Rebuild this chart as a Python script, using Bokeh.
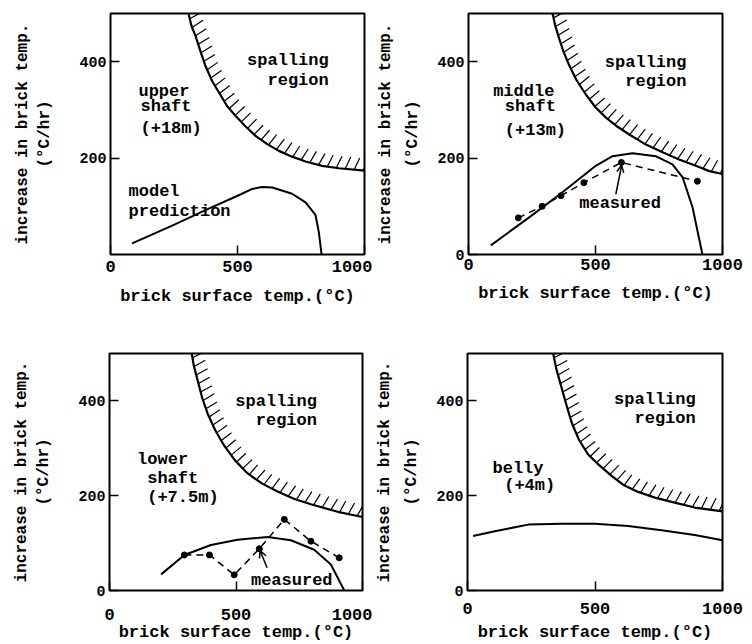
import numpy as np
from bokeh.plotting import figure
from bokeh.layouts import column, row
from bokeh.models import Label, Arrow, OpenHead, FixedTicker, Range1d
from bokeh.embed import file_html
from bokeh.resources import INLINE

FONT = "Liberation Mono"
WEIGHT = "bold"

# ---- data ----
x_ticks = [0, 500, 1000]
y_ticks_first = [200, 400]
y_ticks_other = [0, 200, 400]
x_label = "brick surface temp.(°C)"
y_label = "increase in brick temp.\n(°C/hr)"

# upper shaft (+18m)
upper_spall_x = [308, 319, 335, 354, 374, 400, 427, 459, 492, 531, 571, 617, 663, 715, 768, 833, 899, 1000]
upper_spall_y = [498, 474, 453, 422, 391, 360, 336, 308, 288, 266, 246, 229, 215, 203, 193, 184, 179, 174]
upper_model_x = [85, 243, 374, 505, 558, 597, 637, 715, 768, 807, 820, 831]
upper_model_y = [23, 60, 92, 123, 136, 140, 139, 126, 108, 82, 47, 0]

# middle shaft (+13m)
middle_spall_x = [331, 341, 357, 374, 396, 425, 462, 499, 541, 587, 633, 692, 764, 829, 895, 948, 1000]
middle_spall_y = [500, 476, 448, 421, 393, 362, 332, 306, 284, 265, 249, 230, 212, 197, 184, 173, 167]
middle_model_x = [88, 239, 370, 501, 567, 646, 737, 803, 843, 882, 921]
middle_model_y = [19, 77, 129, 184, 204, 210, 204, 187, 160, 98, 0]
middle_meas_x = [196, 290, 364, 454, 602, 901]
middle_meas_y = [76, 100, 122, 149, 191, 152]

# lower shaft (+7.5m)
lower_spall_x = [325, 333, 349, 366, 388, 418, 454, 497, 546, 602, 664, 731, 796, 902, 1000]
lower_spall_y = [500, 475, 442, 407, 373, 338, 305, 274, 247, 226, 209, 193, 182, 166, 155]
lower_model_x = [204, 296, 401, 506, 625, 717, 809, 875, 928]
lower_model_y = [34, 75, 96, 107, 113, 106, 86, 55, 0]
lower_meas_x = [296, 395, 493, 592, 691, 796, 908]
lower_meas_y = [75, 75, 33, 88, 150, 104, 69]

# belly (+4m)
belly_spall_x = [336, 349, 369, 386, 408, 437, 473, 515, 565, 614, 669, 735, 800, 891, 1000]
belly_spall_y = [500, 466, 428, 395, 355, 318, 287, 265, 242, 222, 208, 196, 187, 175, 167]
belly_model_x = [22, 107, 238, 369, 499, 630, 761, 891, 1000]
belly_model_y = [115, 125, 139, 141, 141, 136, 127, 117, 106]


def make_panel(width, height, bl, br, bt, bb, yticks,
               xls=5, xals=10, yals=22, ylh=1.4):
    p = figure(width=width, height=height,
               x_range=Range1d(0, 1000), y_range=Range1d(0, 500),
               output_backend="svg", toolbar_location=None,
               min_border_left=bl, min_border_right=br,
               min_border_top=bt, min_border_bottom=bb)
    p.grid.visible = False
    p.background_fill_color = "white"
    p.border_fill_color = "white"
    p.outline_line_color = "black"
    p.outline_line_width = 2
    p.outline_line_alpha = 1
    p.xaxis.ticker = FixedTicker(ticks=x_ticks)
    p.yaxis.ticker = FixedTicker(ticks=yticks)
    p.xaxis.axis_label = x_label
    p.yaxis.axis_label = y_label
    for ax in p.axis:
        ax.axis_line_color = None
        ax.minor_tick_line_color = None
        ax.major_tick_line_color = "black"
        ax.major_tick_line_width = 1.5
        ax.major_tick_in = 9
        ax.major_tick_out = 0
        ax.major_label_text_font = FONT
        ax.major_label_text_font_style = WEIGHT
        ax.axis_label_text_font = FONT
        ax.axis_label_text_font_style = WEIGHT
        ax.major_label_text_color = "black"
        ax.axis_label_text_color = "black"
    p.xaxis.major_label_text_font_size = "17px"
    p.xaxis.axis_label_text_font_size = "17px"
    p.xaxis.major_label_standoff = xls
    p.xaxis.axis_label_standoff = xals
    p.yaxis.major_label_text_font_size = "15px"
    p.yaxis.axis_label_text_font_size = "16px"
    p.yaxis.major_label_standoff = 4
    p.yaxis.axis_label_standoff = yals
    p.yaxis.axis_label_text_line_height = ylh
    return p


def add_hatch(p, xs, ys, fw, fh, step=9.0, length=13.0):
    sx = fw / 1000.0
    sy = fh / 500.0
    px = np.asarray(xs, float) * sx
    py = np.asarray(ys, float) * sy
    dxs = np.diff(px)
    dys = np.diff(py)
    seg = np.hypot(dxs, dys)
    cum = np.concatenate([[0.0], np.cumsum(seg)])
    s = np.arange(step / 2, cum[-1], step)
    hx = np.interp(s, cum, px)
    hy = np.interp(s, cum, py)
    idx = np.clip(np.searchsorted(cum, s) - 1, 0, len(seg) - 1)
    tx = dxs[idx] / seg[idx]
    ty = dys[idx] / seg[idx]
    nx, ny = -ty, tx
    dx = nx + 0.707
    dy = ny + 0.707
    nrm = np.hypot(dx, dy)
    dx /= nrm
    dy /= nrm
    p.segment(x0=hx / sx, y0=hy / sy, x1=(hx + dx * length) / sx,
              y1=(hy + dy * length) / sy, line_color="black", line_width=1.2)


def add_spall(p, xs, ys, fw, fh):
    p.line(xs, ys, line_color="black", line_width=2.2, line_join="round")
    add_hatch(p, xs, ys, fw, fh)


def txt(p, x, y, text, align="left", size="17px"):
    p.add_layout(Label(x=x, y=y, text=text, text_font=FONT, text_font_size=size,
                       text_font_style=WEIGHT, text_align=align,
                       text_baseline="middle", text_color="black"))


def measured(p, xs, ys):
    p.line(xs, ys, line_color="black", line_width=1.5, line_dash="7 5")
    p.scatter(xs, ys, size=6, marker="circle", fill_color="black", line_color="black")


# ---- panel 1: upper shaft ----
p1 = make_panel(372, 320, 110, 8, 12, 66, y_ticks_first, xls=6, xals=12, ylh=1.25)
add_spall(p1, upper_spall_x, upper_spall_y, 254, 242)
p1.line(upper_model_x, upper_model_y, line_color="black", line_width=2, line_join="round")
txt(p1, 859, 403, "spalling", "right")
txt(p1, 859, 360, "region", "right")
txt(p1, 110, 339, "upper")
txt(p1, 118, 308, "shaft")
txt(p1, 118, 261, "(+18m)")
txt(p1, 71, 130, "model")
txt(p1, 71, 90, "prediction")

# ---- panel 2: middle shaft ----
p2 = make_panel(378, 320, 96, 28, 13, 65, y_ticks_other, xls=4, xals=11, yals=12, ylh=1.55)
add_spall(p2, middle_spall_x, middle_spall_y, 254, 242)
p2.line(middle_model_x, middle_model_y, line_color="black", line_width=2, line_join="round")
measured(p2, middle_meas_x, middle_meas_y)
txt(p2, 858, 399, "spalling", "right")
txt(p2, 858, 359, "region", "right")
txt(p2, 97, 339, "middle")
txt(p2, 143, 308, "shaft")
txt(p2, 143, 258, "(+13m)")
txt(p2, 436, 105, "measured")
p2.add_layout(Arrow(end=OpenHead(size=7, line_width=1.5), x_start=580, y_start=125,
                    x_end=603, y_end=185, line_width=1.5))

# ---- panel 3: lower shaft ----
p3 = make_panel(372, 324, 109, 10, 29, 52, y_ticks_other, xls=18, xals=0, ylh=1.25)
add_spall(p3, lower_spall_x, lower_spall_y, 253, 243)
p3.line(lower_model_x, lower_model_y, line_color="black", line_width=2, line_join="round")
measured(p3, lower_meas_x, lower_meas_y)
txt(p3, 820, 398, "spalling", "right")
txt(p3, 820, 358, "region", "right")
txt(p3, 109, 276, "lower")
txt(p3, 149, 237, "shaft")
txt(p3, 149, 196, "(+7.5m)")
txt(p3, 559, 21, "measured")
p3.add_layout(Arrow(end=OpenHead(size=7, line_width=1.5), x_start=623, y_start=48,
                    x_end=595, y_end=84, line_width=1.5))

# ---- panel 4: belly ----
p4 = make_panel(378, 324, 95, 28, 33, 49, y_ticks_other, xls=12, xals=6, yals=12, ylh=1.55)
add_spall(p4, belly_spall_x, belly_spall_y, 255, 242)
p4.line(belly_model_x, belly_model_y, line_color="black", line_width=2, line_join="round")
txt(p4, 895, 402, "spalling", "right")
txt(p4, 895, 363, "region", "right")
txt(p4, 98, 258, "belly")
txt(p4, 144, 221, "(+4m)")

layout = column(row(p1, p2), row(p3, p4))
open("out.html", "w").write(file_html(layout, INLINE))
